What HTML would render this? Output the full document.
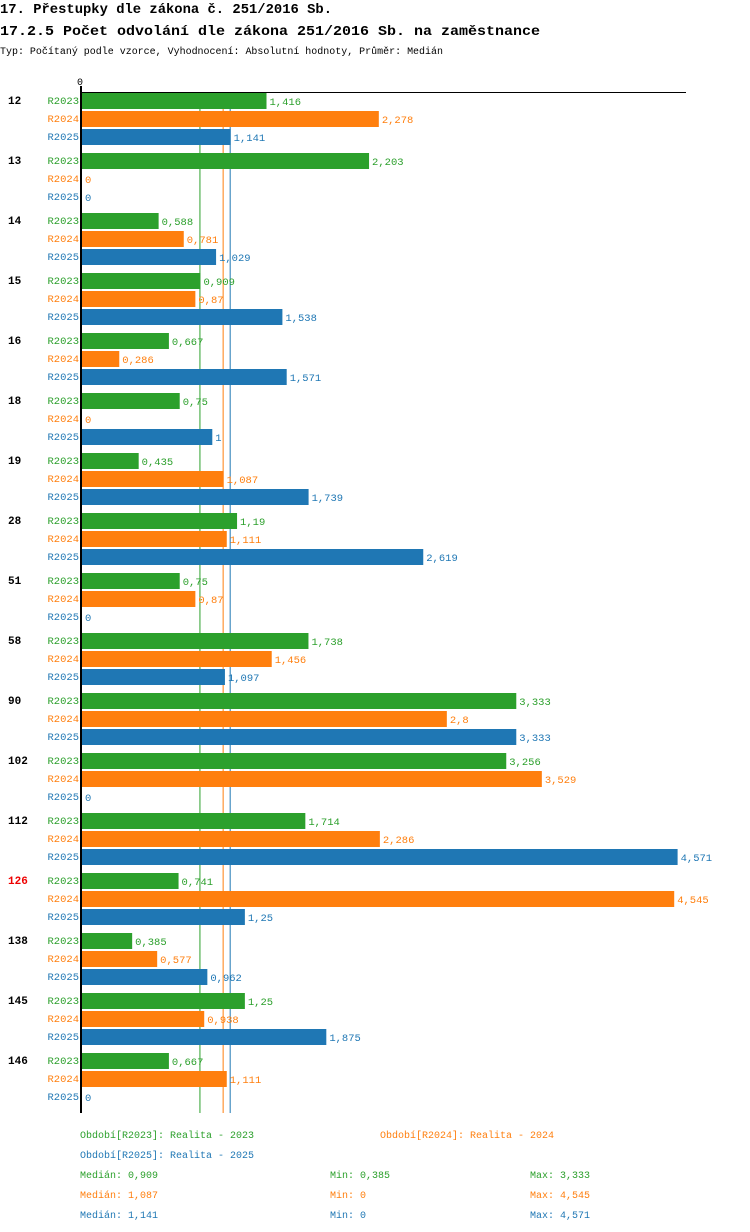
<!DOCTYPE html>
<html><head><meta charset="utf-8"><style>
body{margin:0;background:#fff;width:750px;height:1232px;overflow:hidden}
svg{display:block}
text{font-family:"Liberation Mono","DejaVu Sans Mono",monospace}
</style></head><body>
<svg id="chart" width="750" height="1232" xmlns="http://www.w3.org/2000/svg">
<text x="0" y="13" font-size="14" font-weight="bold" textLength="332" lengthAdjust="spacingAndGlyphs">17. Přestupky dle zákona č. 251/2016 Sb.</text>
<text x="0" y="35" font-size="14" font-weight="bold" textLength="540" lengthAdjust="spacingAndGlyphs">17.2.5 Počet odvolání dle zákona 251/2016 Sb. na zaměstnance</text>
<text x="0" y="54" font-size="10" textLength="443" lengthAdjust="spacingAndGlyphs">Typ: Počítaný podle vzorce, Vyhodnocení: Absolutní hodnoty, Průměr: Medián</text>
<g id="plot"></g>
<g id="legend"></g>
</svg>
<script>
const categories=["12","13","14","15","16","18","19","28","51","58","90","102","112","126","138","145","146"];
const highlighted=["126"];
const seriesNames=["R2023","R2024","R2025"];
const r2023=[1.416,2.203,0.588,0.909,0.667,0.75,0.435,1.19,0.75,1.738,3.333,3.256,1.714,0.741,0.385,1.25,0.667];
const r2024=[2.278,0,0.781,0.87,0.286,0,1.087,1.111,0.87,1.456,2.8,3.529,2.286,4.545,0.577,0.938,1.111];
const r2025=[1.141,0,1.029,1.538,1.571,1,1.739,2.619,0,1.097,3.333,0,4.571,1.25,0.962,1.875,0];
const medians=[0.909,1.087,1.141];
const mins=[0.385,0,0];
const maxs=[3.333,4.545,4.571];
const colors=["#2ca02c","#ff7f0e","#1f77b4"];
const legendLabels=["Období[R2023]: Realita - 2023","Období[R2024]: Realita - 2024","Období[R2025]: Realita - 2025"];

const NS="http://www.w3.org/2000/svg";
const x0=82, scale=130.3;
const xs=v=>x0+v*scale;
const groupY=i=>93+i*60;
const plot=document.getElementById('plot');
function el(tag,attrs,parent,txt){const e=document.createElementNS(NS,tag);for(const k in attrs)e.setAttribute(k,attrs[k]);if(txt!==undefined)e.textContent=txt;parent.appendChild(e);return e;}
const fmt=v=>String(v).replace('.',',');
const series=[r2023,r2024,r2025];
medians.forEach((m,k)=>{
  const ln=el('line',{x1:xs(m)-0.5,x2:xs(m)-0.5,y1:92,y2:1113,stroke:colors[k],'stroke-width':1},plot);
  
  
});
categories.forEach((c,i)=>{
  const gy=groupY(i);
  const t=el('text',{x:8,y:gy+11,'font-size':11,'font-weight':'bold',fill:highlighted.includes(c)?'#e00':'#000'},plot,c);
  
  
  series.forEach((s,k)=>{
    const y=gy+k*18;
    const l=el('text',{x:79,y:y+11,'font-size':10.5,'text-anchor':'end',fill:colors[k]},plot,seriesNames[k]);
    
    
    const w=xs(s[i])-x0;
    if(w>0){const r=el('rect',{x:x0,y:y,width:w,height:16,fill:colors[k]},plot);
      
      }
    const v=el('text',{x:xs(s[i])+3,y:y+12,'font-size':10.5,fill:colors[k]},plot,fmt(s[i]));
    
    
  });
});
const ax=el('line',{x1:81,x2:81,y1:86,y2:1113,stroke:'#000','stroke-width':2},plot);


const tx=el('line',{x1:80,x2:686,y1:92.5,y2:92.5,stroke:'#000','stroke-width':1},plot);


const z=el('text',{x:77,y:85,'font-size':10},plot,'0');



const lg=document.getElementById('legend');
[[80,1138,0],[380,1138,1],[80,1158,2]].forEach(([x,y,k])=>{
  const t=el('text',{x:x,y:y,'font-size':10,fill:colors[k]},lg,legendLabels[k]);
  
  
});
[0,1,2].forEach(k=>{
  const y=1178+k*20;
  const a=el('text',{x:80,y:y,'font-size':10,fill:colors[k]},lg,'Medián: '+fmt(medians[k]));
  
  
  const b=el('text',{x:330,y:y,'font-size':10,fill:colors[k]},lg,'Min: '+fmt(mins[k]));
  
  
  const c=el('text',{x:530,y:y,'font-size':10,fill:colors[k]},lg,'Max: '+fmt(maxs[k]));
  
  
});
</script>
</body></html>
